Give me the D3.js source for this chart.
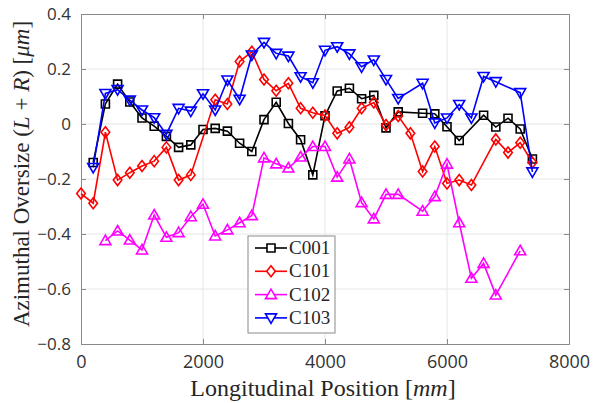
<html>
<head>
<title>Azimuthal oversize</title>
<script src="https://cdn.jsdelivr.net/npm/d3@7"></script>
<style>
  body { margin: 0; background: white; }
  svg text { fill: #262626; }
</style>
</head>
<body>
<div id="chart"></div>
<script>
// positions along the part, mm
var positions = [0, 200, 400, 600, 800, 1000, 1200, 1400, 1600, 1800,
                 2000, 2200, 2400, 2600, 2800, 3000, 3200, 3400, 3600, 3800,
                 4000, 4200, 4400, 4600, 4800, 5000, 5200, 5400, 5600, 5800,
                 6000, 6200, 6400, 6600, 6800, 7000, 7200, 7400];

// null = no measurement at that position
var c001 = [null, -0.14, 0.073, 0.145, 0.08, 0.022, -0.008, -0.045, -0.085, -0.076,
            -0.02, -0.016, -0.026, -0.07, -0.10, 0.016, 0.079, 0.002, -0.057, -0.185,
            0.03, 0.12, 0.13, 0.092, 0.104, -0.014, 0.044, null, 0.039, 0.037,
            -0.01, -0.06, null, 0.032, -0.011, 0.021, -0.018, -0.127];
var c101 = [-0.253, -0.288, -0.03, -0.204, -0.177, -0.153, -0.135, -0.085, -0.204, -0.185,
            null, 0.088, 0.073, 0.227, 0.263, 0.162, 0.121, 0.148, 0.057, 0.041,
            0.031, -0.034, -0.012, 0.057, 0.078, -0.004, 0.029, -0.034, -0.173, -0.082,
            -0.216, -0.204, -0.222, null, -0.056, -0.104, -0.068, -0.14];
var c102 = [null, null, -0.424, -0.389, -0.422, -0.458, -0.331, -0.412, -0.395, -0.337,
            -0.292, -0.407, -0.385, -0.359, -0.333, -0.123, -0.145, -0.16, -0.12, -0.082,
            -0.082, -0.193, -0.127, -0.286, -0.345, -0.256, -0.256, null, -0.317, -0.264,
            -0.146, -0.359, -0.561, -0.507, -0.622, null, -0.461, null];
var c103 = [null, -0.158, 0.111, 0.125, 0.087, 0.051, 0.023, -0.037, 0.057, 0.047,
            0.11, 0.051, 0.16, 0.09, 0.251, 0.297, 0.257, 0.247, 0.172, 0.15,
            0.268, 0.281, 0.255, 0.208, 0.233, 0.162, 0.093, null, 0.148, 0.004,
            0.022, 0.071, 0.022, 0.173, 0.154, null, 0.114, -0.174];

var seriesNames = ["C001", "C101", "C102", "C103"];
var xTicks = [0, 2000, 4000, 6000, 8000];
var yTicks = [-0.8, -0.6, -0.4, -0.2, 0, 0.2, 0.4];

var W = 593, H = 403;
var m = { left: 81, right: 24, top: 14, bottom: 59 };

// marker shapes, drawn around 0,0
var markers = {
  square:   "M-4,-4H4V4H-4Z",
  diamond:  "M0,-5.5L4.3,0L0,5.5L-4.3,0Z",
  triangle: "M0,-5.5L5.5,4L-5.5,4Z",
  tridown:  "M0,5.5L5.5,-4L-5.5,-4Z"
};

var series = [
  { name: seriesNames[0], values: c001, color: "#000000", marker: "square" },
  { name: seriesNames[1], values: c101, color: "#ff0000", marker: "diamond" },
  { name: seriesNames[2], values: c102, color: "#ff00ff", marker: "triangle" },
  { name: seriesNames[3], values: c103, color: "#0000ff", marker: "tridown" }
];

var svg = d3.select("#chart").append("svg")
  .attr("width", W).attr("height", H);

var x = d3.scaleLinear().domain([0, 8000]).range([m.left, W - m.right]);
var y = d3.scaleLinear().domain([-0.8, 0.4]).range([H - m.bottom, m.top]);

// grid
svg.append("g").selectAll("line").data(xTicks.slice(1, -1)).enter().append("line")
  .attr("x1", d => x(d)).attr("x2", d => x(d))
  .attr("y1", y(0.4)).attr("y2", y(-0.8))
  .attr("stroke", "#e6e6e6").attr("stroke-width", 1);
svg.append("g").selectAll("line").data(yTicks.slice(1, -1)).enter().append("line")
  .attr("x1", x(0)).attr("x2", x(8000))
  .attr("y1", d => y(d)).attr("y2", d => y(d))
  .attr("stroke", "#e6e6e6").attr("stroke-width", 1);

// axes
var xAxis = d3.axisBottom(x).tickValues(xTicks).tickSize(-5).tickPadding(11)
  .tickFormat(d3.format("d"));
var yAxis = d3.axisLeft(y).tickValues(yTicks).tickSize(-5).tickPadding(10)
  .tickFormat(d => d === 0 ? "0" : d3.format(".1f")(d));

var gx = svg.append("g").attr("transform", "translate(0," + y(-0.8) + ")").call(xAxis);
var gy = svg.append("g").attr("transform", "translate(" + x(0) + ",0)").call(yAxis);
var gxTop = svg.append("g").attr("transform", "translate(0," + y(0.4) + ")")
  .call(d3.axisTop(x).tickValues(xTicks).tickSize(-5).tickFormat(""));
var gyRight = svg.append("g").attr("transform", "translate(" + x(8000) + ",0)")
  .call(d3.axisRight(y).tickValues(yTicks).tickSize(-5).tickFormat(""));

[gx, gy, gxTop, gyRight].forEach(function(g) {
  g.select(".domain").attr("stroke", "#8a8a8a");
  g.selectAll(".tick line").attr("stroke", "#8a8a8a");
});
gx.selectAll(".tick text").style("font-family", "'Open Sans'").style("font-size", "18px")
  .style("fill", "#333");
gy.selectAll(".tick text").style("font-family", "'Open Sans'").style("font-size", "17px")
  .style("fill", "#333");

// labels
svg.append("text")
  .attr("x", (x(0) + x(8000)) / 2 - 2).attr("y", 396)
  .attr("text-anchor", "middle")
  .style("font-family", "'Liberation Serif'").style("font-size", "24px")
  .html("Longitudinal Position [<tspan font-style='italic'>mm</tspan>]");

svg.append("text")
  .attr("transform", "translate(29," + ((y(0.4) + y(-0.8)) / 2 - 5) + ") rotate(-90)")
  .attr("text-anchor", "middle")
  .style("font-family", "'Liberation Serif'").style("font-size", "23px")
  .html("Azimuthal Oversize (<tspan font-style='italic'>L</tspan> + <tspan font-style='italic'>R</tspan>) [<tspan font-style='italic'>μm</tspan>]");

// series
var line = d3.line().x(d => x(d[0])).y(d => y(d[1]));

series.forEach(function(s) {
  var pts = positions.map((p, i) => [p, s.values[i]]).filter(d => d[1] !== null);
  var g = svg.append("g");
  g.append("path").datum(pts).attr("d", line)
    .attr("fill", "none").attr("stroke", s.color).attr("stroke-width", 1.6);
  g.selectAll("path.mk").data(pts).enter().append("path").attr("class", "mk")
    .attr("d", markers[s.marker])
    .attr("transform", d => "translate(" + x(d[0]) + "," + y(d[1]) + ")")
    .attr("fill", "none").attr("stroke", s.color).attr("stroke-width", 1.6);
});

// legend
var lg = svg.append("g").attr("transform", "translate(248,236)");
lg.append("rect").attr("width", 87).attr("height", 97)
  .attr("fill", "white").attr("stroke", "#8a8a8a").attr("stroke-width", 1);
var item = lg.selectAll("g.it").data(series).enter().append("g").attr("class", "it")
  .attr("transform", (d, i) => "translate(0," + (12 + i * 23.3) + ")");
item.append("line").attr("x1", 7).attr("x2", 39).attr("y1", 0).attr("y2", 0)
  .attr("stroke", d => d.color).attr("stroke-width", 1.6);
item.append("path").attr("d", d => markers[d.marker]).attr("transform", "translate(23,0)")
  .attr("fill", "white").attr("stroke", d => d.color).attr("stroke-width", 1.6);
item.append("text").attr("x", 41).attr("y", 6)
  .style("font-family", "'Liberation Serif'").style("font-size", "19px")
  .text(d => d.name);
</script>
</body>
</html>
